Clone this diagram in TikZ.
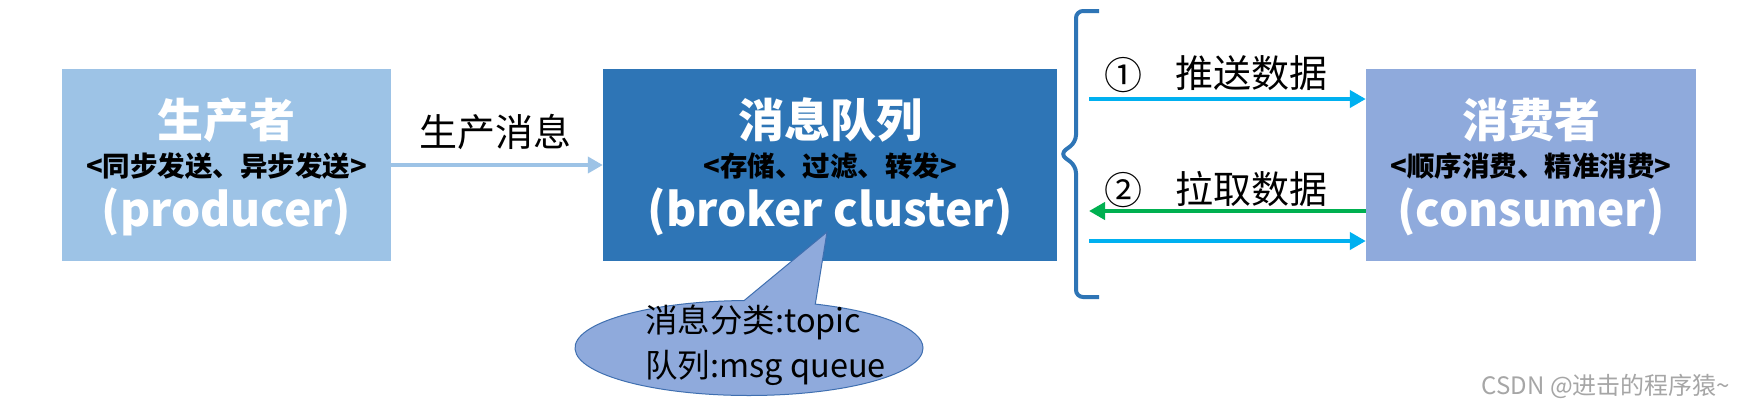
\documentclass[tikz,border=0pt]{standalone}
\usepackage{fontspec}
\setmainfont{Noto Sans CJK SC}
\usetikzlibrary{arrows.meta,shapes.callouts,shapes.geometric}
\definecolor{prodc}{HTML}{9DC3E6}
\definecolor{brokc}{HTML}{2E75B6}
\definecolor{consc}{HTML}{8FAADC}
\definecolor{callc}{HTML}{8FAADC}
\definecolor{callb}{HTML}{3F6FB0}
\definecolor{pushc}{HTML}{00B0F0}
\definecolor{pullc}{HTML}{00B050}
\definecolor{bracec}{HTML}{2E75B6}
\definecolor{markc}{HTML}{A6A6A6}
\tikzset{
  box/.style={draw=none, inner sep=0pt, minimum height=192pt},
  ttl/.style={text=white, inner sep=0pt, font=\bfseries\fontsize{46}{50}\selectfont},
  subt/.style={text=black, inner sep=0pt, font=\bfseries\fontsize{27.5}{30}\selectfont},
  eng/.style={text=white, inner sep=0pt, font=\bfseries\fontsize{46}{50}\selectfont},
  lbl/.style={text=black, inner sep=0pt, font=\fontsize{38}{42}\selectfont},
  prodarrow/.style={draw=prodc, line width=4pt, -{Triangle[length=15pt,width=16pt]}},
  pusharrow/.style={draw=pushc, line width=4.5pt, -{Triangle[length=16pt,width=17pt]}},
  pullarrow/.style={draw=pullc, line width=4.5pt, -{Triangle[length=16pt,width=17pt]}},
}
\begin{document}
\begin{tikzpicture}[x=1pt,y=-1pt]
\useasboundingbox (0,0) rectangle (1747,408);
\fill[white] (0,0) rectangle (1747,408);
% boxes
\node[box, fill=prodc, minimum width=329pt] (prod) at (226.5,165) {};
\node[box, fill=brokc, minimum width=454pt] (brok) at (830,165) {};
\node[box, fill=consc, minimum width=330pt] (cons) at (1531,165) {};
% producer texts
\node[ttl] (prodT) at (226.5,120) {生产者};
\node[subt] (prodS) at (226.5,166) {<同步发送、异步发送>};
\node[eng] (prodE) at (226.5,212) {(producer)};
% broker texts
\node[ttl] (brokT) at (830,120) {消息队列};
\node[subt] (brokS) at (830,166) {<存储、过滤、转发>};
\node[eng] (brokE) at (830,212) {(broker cluster)};
% consumer texts
\node[ttl] (consT) at (1531,120) {消费者};
\node[subt] (consS) at (1531,166) {<顺序消费、精准消费>};
\node[eng] (consE) at (1531,212) {(consumer)};
% producer -> broker
\draw[prodarrow] (prod.east) -- (brok.west);
\node[lbl] (prodL) at (495,132) {生产消息};
% brace
\draw[bracec, line width=4pt, rounded corners=7pt] (1099,11) -- (1076,11) -- (1076,142) -- (1060,154) -- (1076,166) -- (1076,297) -- (1099,297);
% push / pull
\coordinate (s1) at (1089,99);
\coordinate (s2) at (1089,211);
\coordinate (s3) at (1089,241);
\draw[pusharrow] (s1) -- (s1 -| cons.west);
\draw[pullarrow] (s2 -| cons.west) -- (s2);
\draw[pusharrow] (s3) -- (s3 -| cons.west);
\node[lbl] (n1) at (1123,75) {①};
\node[lbl] (l1) at (1251,73) {推送数据};
\node[lbl] (n2) at (1123,190) {②};
\node[lbl] (l2) at (1251,189) {拉取数据};
% callout
\node[ellipse callout, draw=callb, line width=1pt, fill=callc, minimum width=348pt, minimum height=95pt, inner sep=0pt, callout pointer arc=24, callout absolute pointer={(827,232)}] (call) at (749,348) {};
\node[align=left, inner sep=0pt, font=\fontsize{32.5}{45}\selectfont, anchor=west] (callT) at (645,345) {消息分类:topic\\队列:msg queue};
% watermark
\node[text=markc, inner sep=0pt, font=\fontsize{24}{26}\selectfont] (mark) at (1606,386) {CSDN @进击的程序猿\textasciitilde};
\end{tikzpicture}
\end{document}
